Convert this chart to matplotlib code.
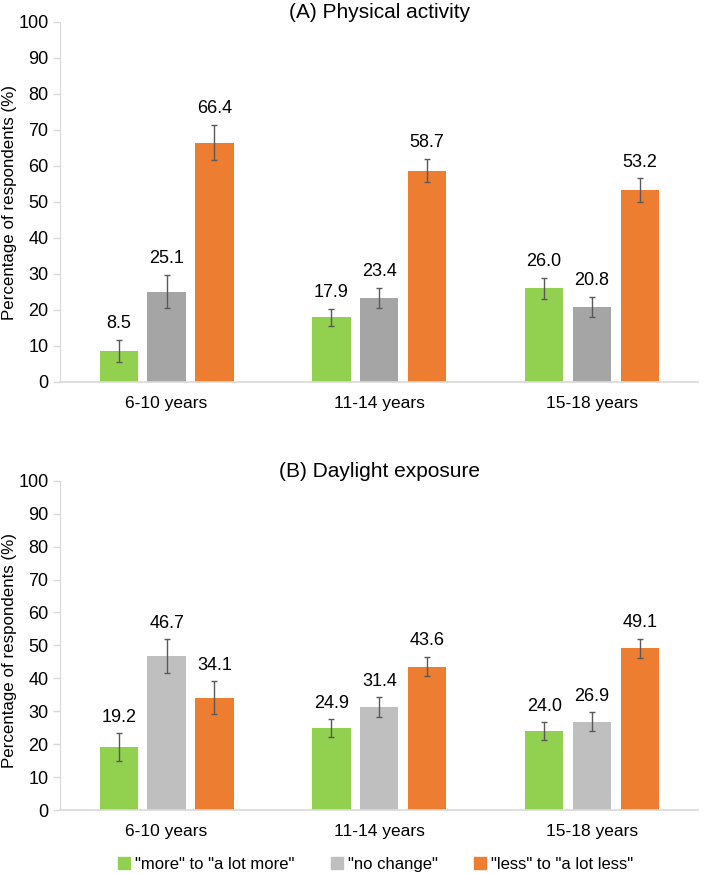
import numpy as np
import matplotlib.pyplot as plt
from matplotlib.patches import Patch

plt.rcParams['font.family'] = ['Liberation Sans', 'DejaVu Sans']

groups = ["6-10 years", "11-14 years", "15-18 years"]
series = ['"more" to "a lot more"', '"no change"', '"less" to "a lot less"']

# (A) physical activity
pa_more = [8.5, 17.9, 26.0]
pa_same = [25.1, 23.4, 20.8]
pa_less = [66.4, 58.7, 53.2]
pa_more_err = [3.1, 2.4, 3.0]
pa_same_err = [4.6, 2.8, 2.7]
pa_less_err = [4.9, 3.2, 3.3]

# (B) daylight exposure
dl_more = [19.2, 24.9, 24.0]
dl_same = [46.7, 31.4, 26.9]
dl_less = [34.1, 43.6, 49.1]
dl_more_err = [4.3, 2.8, 2.8]
dl_same_err = [5.2, 3.0, 2.8]
dl_less_err = [5.0, 3.0, 3.0]

green = "#92D050"
orange = "#ED7D31"


def panel(ax, vals, errs, colors, title, ylab_y):
    x = np.arange(len(groups))
    w = 0.18
    step = 0.225
    for i, (v, e, c) in enumerate(zip(vals, errs, colors)):
        pos = x + (i - 1) * step
        ax.bar(pos, v, w, color=c, yerr=e, capsize=2.5,
               error_kw=dict(ecolor="#595959", elinewidth=1, capthick=1))
        for p, vv, ee in zip(pos, v, e):
            ax.text(p, vv + ee + 2.2, f"{vv:.1f}", ha="center", va="bottom", fontsize=13)
    ax.set_xlim(-0.5, 2.5)
    ax.set_ylim(0, 100)
    ax.set_yticks(range(0, 101, 10))
    ax.set_xticks(x)
    ax.set_xticklabels(groups, fontsize=12.5)
    ax.tick_params(axis="y", labelsize=13, color="#D9D9D9", length=5, width=1)
    ax.tick_params(axis="x", length=0, pad=10)
    for s in ["top", "right"]:
        ax.spines[s].set_visible(False)
    ax.spines["left"].set_color("#D9D9D9")
    ax.spines["bottom"].set_color("#D9D9D9")
    ax.spines["bottom"].set_linewidth(1.2)
    ax.set_ylabel("Percentage of respondents (%)", fontsize=12.2)
    ax.yaxis.set_label_coords(-0.068, ylab_y)
    ax.set_title(title, fontsize=15, pad=1)


fig = plt.figure(figsize=(7.09, 8.74), dpi=100)
ax1 = fig.add_axes([0.085, 0.563, 0.90, 0.412])
ax2 = fig.add_axes([0.085, 0.073, 0.90, 0.377])

panel(ax1, [pa_more, pa_same, pa_less], [pa_more_err, pa_same_err, pa_less_err],
      [green, "#A5A5A5", orange], "(A) Physical activity", 0.497)
panel(ax2, [dl_more, dl_same, dl_less], [dl_more_err, dl_same_err, dl_less_err],
      [green, "#BFBFBF", orange], "(B) Daylight exposure", 0.486)

handles = [Patch(color=c) for c in [green, "#BFBFBF", orange]]
fig.legend(handles, series, loc="center", bbox_to_anchor=(0.53, 0.011), ncol=3,
           frameon=False, fontsize=12, handlelength=0.7, handleheight=0.7,
           handletextpad=0.3, columnspacing=2.2)

fig.savefig("out.png", dpi=100)
